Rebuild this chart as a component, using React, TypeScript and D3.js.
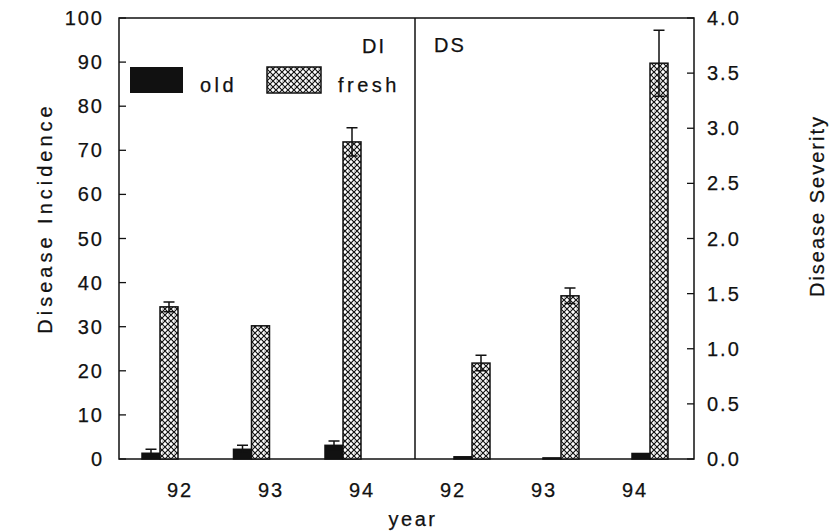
import React, { useEffect, useRef } from "react";
import * as d3 from "d3";

const years = ["92", "93", "94"];
const xTickLabels = ["92", "93", "94", "92", "93", "94"];

// Disease incidence (left panel, 0-100)
const diOld = [1.3, 2.2, 3.1];
const diOldErr = [0.9, 0.9, 1.0];
const diFresh = [34.5, 30.2, 71.9];
const diFreshErr = [1.1, 0, 3.2];

// Disease severity (right panel, 0-4)
const dsOld = [0.02, 0.01, 0.05];
const dsOldErr = [0, 0, 0];
const dsFresh = [0.87, 1.48, 3.59];
const dsFreshErr = [0.07, 0.07, 0.3];

const leftTicks = d3.range(0, 101, 10);
const rightTicks = d3.range(0, 4.01, 0.5);

const App = () => {
  const ref = useRef<SVGSVGElement>(null);

  useEffect(() => {
    drawChart();
  }, []);

  function drawChart() {
    const svg = d3.select(ref.current);
    svg.selectAll("*").remove();

    const font = "'Liberation Sans', Arial, sans-serif";
    const fs = 20;
    const left = 119, right = 694, top = 18, bottom = 459, mid = 415;
    const barW = 18;

    const yL = d3.scaleLinear().domain([0, 100]).range([bottom, top]);
    const yR = d3.scaleLinear().domain([0, 4]).range([bottom, top]);
    const xL = d3.scalePoint().domain(years).range([160, 343]);
    const xR = d3.scalePoint().domain(years).range([472, 650]);
    const xLab = d3.scalePoint().domain(d3.range(6).map(String)).range([179, 634]);

    const defs = svg.append("defs");
    const pat = defs
      .append("pattern")
      .attr("id", "hatch")
      .attr("patternUnits", "userSpaceOnUse")
      .attr("width", 6)
      .attr("height", 6);
    pat.append("rect").attr("width", 6).attr("height", 6).attr("fill", "#fff");
    pat.append("path").attr("d", "M0,0L6,6M6,0L0,6").attr("stroke", "#111").attr("stroke-width", 1.2);
    pat.append("circle").attr("cx", 0).attr("cy", 3).attr("r", 0.6).attr("fill", "#111");

    const txt = (x: number, y: number, s: string, ls = 2, anchor = "start") =>
      svg
        .append("text")
        .attr("x", x)
        .attr("y", y)
        .attr("text-anchor", anchor)
        .attr("font-family", font)
        .attr("font-size", fs)
        .attr("letter-spacing", ls)
        .attr("fill", "#111")
        .attr("stroke", "#111")
        .attr("stroke-width", 0.25)
        .text(s);

    // frame + divider
    svg
      .append("rect")
      .attr("x", left)
      .attr("y", top)
      .attr("width", right - left)
      .attr("height", bottom - top)
      .attr("fill", "none")
      .attr("stroke", "#111")
      .attr("stroke-width", 1.5);
    svg
      .append("line")
      .attr("x1", mid)
      .attr("x2", mid)
      .attr("y1", top)
      .attr("y2", bottom)
      .attr("stroke", "#111")
      .attr("stroke-width", 1.5);

    // left axis
    leftTicks.forEach((t) => {
      svg
        .append("line")
        .attr("x1", left)
        .attr("x2", left + 7)
        .attr("y1", yL(t))
        .attr("y2", yL(t))
        .attr("stroke", "#111")
        .attr("stroke-width", 1.3);
      txt(104, yL(t) + 7, String(t), 2, "end");
    });

    // right axis
    rightTicks.forEach((t) => {
      svg
        .append("line")
        .attr("x1", right - 7)
        .attr("x2", right)
        .attr("y1", yR(t))
        .attr("y2", yR(t))
        .attr("stroke", "#111")
        .attr("stroke-width", 1.3);
      txt(707, yR(t) + 7, t.toFixed(1), 2);
    });

    // x tick labels
    xTickLabels.forEach((lab, i) => {
      txt((xLab(String(i)) as number) + 1, 497, lab, 2, "middle");
    });

    function bars(
      x: any,
      y: any,
      vals: number[],
      errs: number[],
      offset: number,
      fill: string
    ) {
      years.forEach((yr, i) => {
        const x0 = (x(yr) as number) + offset;
        svg
          .append("rect")
          .attr("x", x0)
          .attr("y", y(vals[i]))
          .attr("width", barW)
          .attr("height", y(0) - y(vals[i]))
          .attr("fill", fill)
          .attr("stroke", "#111")
          .attr("stroke-width", 1.5);
        if (errs[i] > 0) {
          const cx = x0 + barW / 2;
          const hi = y(vals[i] + errs[i]);
          const lo = y(Math.max(0, vals[i] - errs[i]));
          svg
            .append("path")
            .attr("d", `M${cx},${hi}L${cx},${lo}M${cx - 5.5},${hi}L${cx + 5.5},${hi}M${cx - 5.5},${lo}L${cx + 5.5},${lo}`)
            .attr("stroke", "#111")
            .attr("stroke-width", 1.5)
            .attr("fill", "none");
        }
      });
    }

    bars(xL, yL, diOld, diOldErr, -barW, "#111");
    bars(xL, yL, diFresh, diFreshErr, 0, "url(#hatch)");
    bars(xR, yR, dsOld, dsOldErr, -barW, "#111");
    bars(xR, yR, dsFresh, dsFreshErr, 0, "url(#hatch)");

    // panel labels
    txt(362, 53, "DI", 2);
    txt(434, 52, "DS", 2);

    // legend
    svg.append("rect").attr("x", 130).attr("y", 67).attr("width", 53).attr("height", 26).attr("fill", "#111");
    txt(200, 92, "old", 3.5);
    svg
      .append("rect")
      .attr("x", 267)
      .attr("y", 67)
      .attr("width", 54)
      .attr("height", 26)
      .attr("fill", "url(#hatch)")
      .attr("stroke", "#111")
      .attr("stroke-width", 1.5);
    txt(338, 92, "fresh", 3.5);

    // axis titles
    txt(0, 0, "Disease Incidence", 4, "middle").attr("transform", "translate(52,218) rotate(-90)");
    txt(0, 0, "Disease Severity", 2, "middle").attr("transform", "translate(824,206) rotate(-90)");
    txt(413, 526, "year", 2.5, "middle");
  }

  return (
    <svg
      ref={ref}
      width={829}
      height={532}
      style={{ position: "absolute", left: 0, top: 0, background: "#fff" }}
    />
  );
};

export default App;
